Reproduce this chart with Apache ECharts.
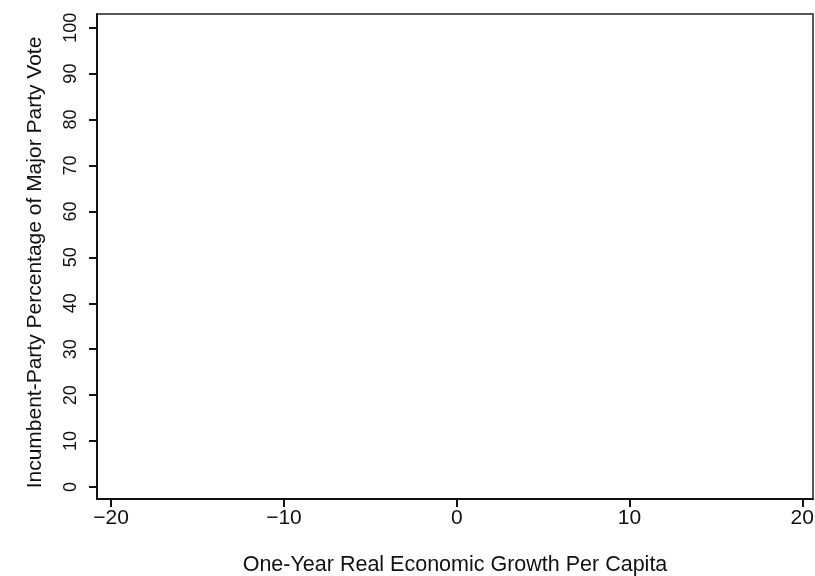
<!DOCTYPE html>
<html>
<head>
<meta charset="utf-8">
<script src="https://cdn.jsdelivr.net/npm/echarts@6/dist/echarts.min.js"></script>
<style>
  html, body { margin: 0; padding: 0; background: #fff; }
  #chart { width: 815px; height: 576px; }
</style>
</head>
<body>
<div id="chart"></div>
<script>
// Tick positions for both axes
const xTicks = [-20, -10, 0, 10, 20];
const yTicks = [0, 10, 20, 30, 40, 50, 60, 70, 80, 90, 100];
// Plotted observations (growth, vote share) – the panel is empty
const points = [];

const FONT = "'Liberation Sans', Arial, Helvetica, sans-serif";
const chart = echarts.init(document.getElementById('chart'), null, { renderer: 'canvas' });

const minus = v => String(v).replace('-', '\u2212');

chart.setOption({
  animation: false,
  backgroundColor: '#fff',
  grid: {
    left: 97, right: 2, top: 14, bottom: 77,
    outerBoundsMode: 'none',
    containLabel: false,
    show: true, borderColor: '#222', borderWidth: 1.5, backgroundColor: 'transparent'
  },
  xAxis: {
    type: 'value',
    min: -20.82, max: 20.62,
    name: 'One-Year Real Economic Growth Per Capita',
    nameLocation: 'middle',
    nameGap: 55,
    nameTextStyle: { fontFamily: FONT, fontSize: 21.5, color: '#111' },
    splitLine: { show: false },
    axisLine: { show: true, onZero: false, lineStyle: { color: '#111', width: 2 } },
    axisTick: { show: true, length: 8, customValues: xTicks, lineStyle: { color: '#111', width: 2 } },
    axisLabel: {
      customValues: xTicks, formatter: minus, margin: 9,
      fontFamily: FONT, fontSize: 21, color: '#111'
    }
  },
  yAxis: {
    type: 'value',
    min: -2.61, max: 102.98,
    name: 'Incumbent-Party Percentage of Major Party Vote',
    nameLocation: 'middle',
    nameGap: 51,
    nameRotate: 90,
    nameTextStyle: { fontFamily: FONT, fontSize: 21, color: '#111', padding: [0, 12, 0, 0] },
    splitLine: { show: false },
    axisLine: { show: true, onZero: false, lineStyle: { color: '#111', width: 2 } },
    axisTick: { show: true, length: 8, customValues: yTicks, lineStyle: { color: '#111', width: 2 } },
    axisLabel: {
      customValues: yTicks, rotate: 90, margin: 17,
      fontFamily: FONT, fontSize: 18, color: '#111'
    }
  },
  series: [{
    type: 'scatter',
    data: points,
    symbolSize: 6,
    itemStyle: { color: '#111' }
  }]
});
</script>
</body>
</html>
